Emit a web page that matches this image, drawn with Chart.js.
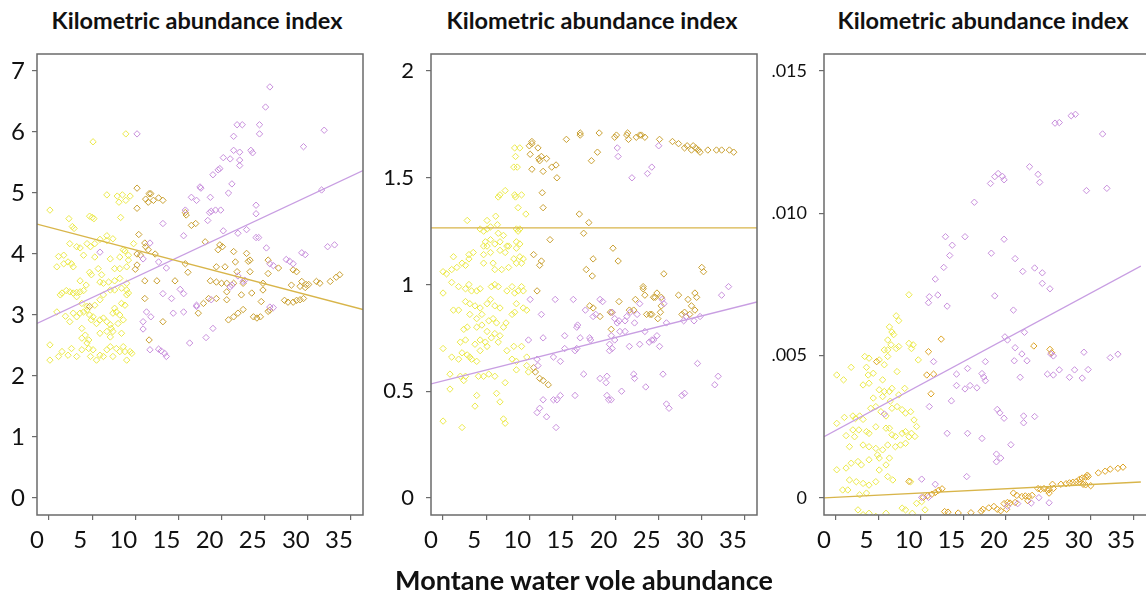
<!DOCTYPE html>
<html>
<head>
<meta charset="utf-8">
<script src="https://cdn.jsdelivr.net/npm/chart.js@4.4.1/dist/chart.umd.min.js"></script>
<style>
  body { margin: 0; background: #fff; }
  #wrap { position: relative; width: 1146px; height: 605px; overflow: hidden; background: #fff; }
  canvas { position: absolute; top: 0; }
  .ttl { position: absolute; top: 6px; width: 380px; text-align: center; font: bold 23.5px Lato, "Open Sans", sans-serif; color: #111; }
  #xlab { position: absolute; left: 334px; top: 563px; width: 500px; text-align: center; font: bold 27px Lato, "Open Sans", sans-serif; color: #111; }
</style>
</head>
<body>
<div id="wrap">
  <div class="ttl" style="left:7px">Kilometric abundance index</div>
  <div class="ttl" style="left:402px">Kilometric abundance index</div>
  <div class="ttl" style="left:793px">Kilometric abundance index</div>
  <canvas id="c1" width="375" height="565" style="left:0px"></canvas>
  <canvas id="c2" width="385" height="565" style="left:380px"></canvas>
  <canvas id="c3" width="381" height="565" style="left:765px"></canvas>
  <div id="xlab">Montane water vole abundance</div>
</div>
<script>
// tick values
var xTickVals = [0, 5, 10, 15, 20, 25, 30, 35];
var p1TickVals = [0, 1, 2, 3, 4, 5, 6, 7];
var p2TickVals = [0, 0.5, 1, 1.5, 2];
var p3TickVals = [0, 0.005, 0.010, 0.015];
var p3TickLabels = ['0', '.005', '.010', '.015'];

// panel 1 : [vole abundance, index]
var p1Yellow = [[0.1,4.72],[5.1,5.84],[8.9,5.97],[6.7,4.97],[7.9,4.95],[8.5,4.97],[8.9,4.88],[9.4,4.95],[8.1,4.85],[4.7,4.62],[5.0,4.60],[5.2,4.58],[8.3,4.60],[2.3,4.58],[2.9,4.42],[2.7,4.45],[6.7,4.30],[7.4,4.25],[2.4,4.17],[3.2,4.12],[3.6,4.10],[4.4,4.17],[4.8,4.12],[5.3,4.17],[5.9,4.24],[6.7,4.22],[0.9,3.79],[1.7,3.84],[2.2,3.87],[2.8,3.79],[2.6,3.84],[1.1,3.96],[1.7,3.98],[4.0,3.98],[5.3,3.95],[7.1,3.92],[8.2,3.95],[8.2,3.76],[7.6,3.76],[9.0,3.79],[9.2,3.90],[9.2,3.98],[8.6,4.07],[8.8,4.05],[9.8,4.17],[5.7,3.76],[6.1,3.66],[4.7,3.70],[4.9,3.66],[3.6,3.56],[6.3,3.52],[7.6,3.56],[8.2,3.60],[9.0,3.52],[5.9,3.54],[6.9,3.54],
  [1.3,3.33],[1.5,3.36],[2.0,3.40],[2.4,3.38],[2.8,3.36],[3.2,3.37],[3.6,3.38],[4.0,3.40],[4.3,3.49],[7.1,3.41],[7.6,3.41],[8.4,3.44],[9.0,3.41],
  [0.9,3.05],[1.9,2.98],[2.4,2.89],[2.8,3.03],[3.2,3.30],[3.8,3.19],[4.4,3.14],[5.3,3.16],[5.9,3.25],[6.3,3.33],
  [3.2,2.97],[3.6,3.03],[4.0,3.05],[4.4,3.08],[4.7,3.00],[4.9,2.92],[5.1,2.97],[5.5,2.86],[5.9,2.92],[6.3,2.95],[6.7,2.89],[7.1,2.84],[7.2,2.78],[7.4,3.03],[7.6,3.11],[7.8,3.05],[8.2,3.00],[8.4,3.19],[8.8,3.16],[9.0,3.33],[9.2,3.36],[8.6,2.92],[7.4,2.73],[8.0,2.86],
  [0.1,2.51],[0.1,2.26],[1.1,2.32],[1.5,2.40],[2.2,2.34],[2.6,2.45],[3.2,2.32],[3.8,2.43],[4.4,2.54],[4.6,2.45],[4.8,2.32],[5.1,2.43],[5.5,2.26],[5.9,2.34],[6.3,2.32],[6.7,2.43],[7.1,2.48],[7.4,2.32],[7.8,2.45],[8.2,2.40],[8.6,2.48],[8.8,2.40],[9.0,2.26],[9.4,2.40],[9.6,2.37],
  [3.8,2.78],[5.9,2.70],[8.4,2.70],[3.8,2.62],[4.2,2.67],[4.6,2.59],[6.7,2.73],[7.1,2.64]];
var p1Gold = [[4.7,3.14],[10.2,5.08],[11.6,4.99],[11.8,4.99],[11.2,4.90],[11.5,4.85],[12.1,4.88],[12.7,4.92],[13.2,4.88],[10.2,4.75],[10.4,4.32],[15.9,4.64],[15.8,4.68],[16.5,4.47],[17.0,4.50],[18.1,4.20],[11.1,4.18],[11.2,4.12],[11.5,4.07],[12.3,4.00],[10.2,4.00],[10.6,3.98],[19.8,4.15],[20.1,4.12],[19.6,4.07],[21.4,4.04],[21.6,3.87],[22.9,4.01],[23.1,3.88],[23.3,3.90],[25.4,3.90],[25.4,3.68],[19.4,3.79],[20.4,3.79],[21.8,3.71],[23.3,3.71],[18.7,3.56],[19.4,3.54],[20.6,3.52],[22.5,3.52],[24.8,3.52],[26.6,3.77],[28.3,3.74],[28.7,3.71],[29.3,3.55],[29.8,3.50],[31.4,3.52],[33.3,3.62],[33.7,3.66],[15.8,3.84],[16.1,3.70],[12.5,3.56],[11.1,3.56],[14.6,3.56],[10.0,3.75],[10.2,3.82],
  [11.1,3.27],[11.6,2.59],[13.2,2.89],[17.3,3.03],[17.9,3.19],[18.5,3.27],[19.4,3.27],[20.0,3.52],[20.6,3.25],[20.6,3.38],[21.4,3.52],[20.8,2.92],[21.4,2.97],[21.9,3.03],[22.5,3.09],[22.3,3.33],[23.5,3.36],[23.7,2.97],[24.1,2.95],[24.5,2.97],[24.6,3.22],[24.8,3.41],[25.4,3.06],[25.6,3.08],[27.3,3.24],[27.7,3.21],[28.3,3.21],[28.7,3.24],[29.1,3.25],[29.5,3.27],[28.1,3.49],[29.1,3.47],[29.7,3.45],[30.1,3.50],[31.0,3.55],[32.6,3.55]];
var p1Purple = [[10.2,5.97],[25.6,6.74],[25.1,6.41],[21.8,6.12],[22.4,6.12],[24.4,6.12],[24.4,5.97],[21.4,5.93],[31.9,6.03],[29.5,5.76],[31.6,5.05],[32.3,4.12],[33.1,4.15],[29.3,4.02],[29.7,3.99],[19.0,5.30],[19.6,5.38],[20.2,5.58],[21.0,5.56],[21.4,5.70],[22.1,5.67],[22.1,5.54],[22.1,5.45],[23.4,5.70],[23.6,5.66],[19.8,5.40],[17.5,5.10],[17.6,5.08],[20.8,5.00],[21.2,5.15],[16.5,4.93],[17.1,4.88],[18.7,4.93],[15.8,4.72],[18.8,4.70],[19.3,4.72],[19.9,4.72],[18.6,4.68],[18.4,4.55],[22.9,4.40],[21.9,4.34],[20.2,4.38],[24.0,4.80],[24.0,4.66],[24.0,4.27],[24.3,4.27],[13.2,4.50],[15.6,4.30],[5.9,4.03],[10.9,3.92],[11.7,4.18],[12.7,3.87],[13.6,3.77],[25.2,4.10],[25.6,3.84],[26.0,3.81],[27.5,3.91],[27.9,3.88],[28.3,3.84],[21.9,3.64],[22.5,3.55],
  [10.9,2.89],[11.3,3.05],[11.8,2.97],[10.9,2.77],[11.7,2.43],[12.7,2.44],[13.0,2.41],[13.4,2.37],[13.6,2.32],[13.2,3.35],[14.2,3.27],[14.4,3.03],[15.2,3.42],[15.6,3.35],[15.6,3.05],[16.3,2.54],[17.1,3.16],[17.1,3.14],[18.8,3.25],[19.0,2.78],[18.2,2.63],[21.0,3.46],[21.2,3.49],[22.7,3.57],[25.6,3.13],[26.0,3.12]];
var p1GoldLine = [[-1.4,4.49],[36.4,3.09]];
var p1PurpleLine = [[-1.4,2.86],[36.4,5.37]];

// panel 2
var p2Yellow = [[8.3,1.64],[8.4,1.60],[8.9,1.64],[8.2,1.55],[8.6,1.55],[7.2,1.44],[6.6,1.42],[6.4,1.41],[8.3,1.42],[8.4,1.41],[9.1,1.42],[8.7,1.36],[9.6,1.33],[6.1,1.32],[2.8,1.30],[5.1,1.30],[4.3,1.26],[5.1,1.26],[6.3,1.28],[4.7,1.25],[5.5,1.27],[6.4,1.24],[7.0,1.23],[4.9,1.20],[5.5,1.21],[6.0,1.19],[6.6,1.20],[8.5,1.26],[8.7,1.25],[8.9,1.26],[8.5,1.20],[8.9,1.19],[7.4,1.18],[7.6,1.18],[8.5,1.17],[4.7,1.18],[5.1,1.18],[6.6,1.16],[7.2,1.15],[5.5,1.15],[4.7,1.14],[3.5,1.15],[3.0,1.12],[2.6,1.09],[2.2,1.10],[1.6,1.08],[1.0,1.07],[0.4,1.05],[1.2,1.13],[3.0,1.14],[0.0,1.06],[4.7,1.10],[5.8,1.10],[6.0,1.07],[6.8,1.07],[7.6,1.08],[8.2,1.12],[8.5,1.10],[8.9,1.13],[9.1,1.10],[9.3,1.12],
  [0.0,0.96],[1.0,1.01],[1.8,0.99],[2.6,0.98],[3.0,1.00],[3.3,0.97],[3.9,0.97],[4.3,0.98],[5.6,0.99],[6.0,1.00],[6.4,0.99],[7.4,0.97],[8.0,0.99],[8.3,0.96],[8.7,0.97],[9.1,0.99],[9.3,0.97],
  [2.6,0.92],[3.1,0.91],[3.7,0.90],[4.3,0.89],[5.1,0.91],[5.5,0.93],[6.0,0.90],[6.6,0.89],[8.5,0.91],[9.3,0.89],[9.7,0.88],
  [1.2,0.88],[1.8,0.88],[3.1,0.86],[3.9,0.84],[4.5,0.86],[5.3,0.83],[5.8,0.84],[6.2,0.82],[7.0,0.80],[7.3,0.82],[8.0,0.86],[8.3,0.87],
  [2.4,0.79],[2.8,0.80],[3.9,0.80],[4.5,0.81],[5.1,0.78],[6.0,0.77],[6.6,0.76],[2.0,0.73],[2.6,0.74],[3.7,0.72],[4.3,0.74],[4.9,0.73],[5.6,0.75],[6.4,0.73],
  [0.0,0.70],[1.0,0.66],[1.8,0.65],[2.2,0.68],[2.8,0.67],[3.1,0.66],[3.3,0.65],[3.9,0.64],[4.3,0.69],[5.1,0.71],[7.4,0.69],[8.2,0.71],[9.1,0.71],[8.0,0.65],[8.5,0.64],[9.7,0.66],
  [0.8,0.58],[2.0,0.57],[2.4,0.55],[2.6,0.57],[4.1,0.57],[4.7,0.57],[5.3,0.58],[6.0,0.57],[8.5,0.60],[9.7,0.62],[9.9,0.59],
  [0.8,0.51],[3.9,0.48],[6.2,0.49],[6.6,0.45],[7.2,0.54],[0.0,0.36],[2.2,0.33],[3.7,0.43],[7.0,0.37],[7.2,0.35]];
var p2Gold = [[10.3,1.67],[10.3,1.66],[10.0,1.65],[11.0,1.64],[10.1,1.61],[11.4,1.60],[11.1,1.59],[11.2,1.58],[12.0,1.59],[10.3,1.54],[11.6,1.53],[12.6,1.55],[13.1,1.56],[13.2,1.50],[11.5,1.43],[11.6,1.36],[14.3,1.68],[15.9,1.71],[15.9,1.70],[18.1,1.71],[17.2,1.58],[17.9,1.62],[19.9,1.69],[20.1,1.70],[21.4,1.71],[21.5,1.68],[21.3,1.70],[22.4,1.69],[22.8,1.70],[23.0,1.70],[23.4,1.69],[25.1,1.68],[26.6,1.67],[27.3,1.66],[28.0,1.64],[28.3,1.65],[28.8,1.63],[29.0,1.65],[29.3,1.64],[29.6,1.63],[29.8,1.62],[30.7,1.63],[31.7,1.63],[32.3,1.63],[33.2,1.63],[33.7,1.62],
  [15.8,1.33],[16.9,1.29],[16.3,1.24],[12.4,1.21],[10.5,1.14],[11.4,1.11],[11.2,1.09],[17.4,1.12],[16.6,1.07],[17.3,1.04],[19.7,1.17],[20.3,1.11],[25.6,1.05],[30.0,1.08],[30.2,1.06],[10.9,0.97],[23.2,0.98],[24.6,0.94],[25.3,0.94],
  [17.0,0.90],[17.4,0.89],[18.2,0.85],[19.4,0.87],[19.6,0.87],[20.4,0.92],[21.6,0.88],[22.1,0.88],[22.3,0.93],[23.2,0.99],[23.4,0.95],[23.6,0.86],[24.0,0.86],[24.2,0.86],[24.8,0.96],[25.2,0.87],[24.4,0.94],[25.3,0.90],[24.9,0.84],[27.3,0.95],[27.7,0.86],[28.0,0.87],[28.4,0.93],[28.8,0.90],[29.2,0.96],[29.4,0.94],[28.6,0.86],[29.2,0.88],[19.5,0.79],[10.5,0.61],[10.7,0.59],[11.2,0.56],[11.6,0.55],[12.2,0.53]];
var p2Purple = [[20.2,1.64],[20.3,1.60],[25.0,1.65],[21.9,1.50],[23.7,1.52],[24.2,1.55],
  [10.1,0.93],[13.0,0.93],[15.1,0.93],[11.4,0.86],[9.9,0.74],[11.6,0.75],[14.1,0.76],[15.5,0.80],[15.6,0.81],[15.9,0.75],[17.0,0.75],[17.1,0.74],[14.1,0.70],[15.3,0.69],[15.5,0.70],[10.9,0.65],[11.0,0.62],[12.8,0.66],[13.6,0.64],[16.5,0.88],[18.2,0.93],[18.5,0.92],[17.4,0.85],[17.7,0.86],[19.6,0.87],[19.9,0.84],[20.2,0.82],[20.4,0.83],[21.3,0.85],[21.1,0.83],[21.7,0.87],[22.5,0.86],[22.2,0.82],[19.5,0.76],[19.9,0.74],[19.3,0.72],[19.6,0.70],[19.3,0.69],[20.5,0.78],[21.1,0.78],[21.6,0.71],[22.8,0.72],[23.4,0.78],[23.9,0.73],[24.2,0.74],[24.4,0.74],[22.8,0.91],[24.8,0.76],[25.1,0.71],[25.4,0.93],[25.6,0.91],[25.9,0.82],[27.9,0.83],[28.2,0.85],[29.1,0.83],[29.8,0.85],[32.3,0.95],[33.1,0.99],[29.5,0.63],
  [16.3,0.58],[18.2,0.56],[19.0,0.57],[18.9,0.54],[20.7,0.50],[22.1,0.58],[22.2,0.56],[23.5,0.52],[25.5,0.58],[31.5,0.53],[31.9,0.57],[15.3,0.48],[13.6,0.48],[13.2,0.46],[11.6,0.46],[12.8,0.46],[11.2,0.42],[10.9,0.40],[12.0,0.38],[13.1,0.33],[19.0,0.48],[19.2,0.46],[19.5,0.46],[25.9,0.44],[26.2,0.42],[27.7,0.48],[28.0,0.49]];
var p2GoldLine = [[-1.4,1.265],[36.4,1.265]];
var p2PurpleLine = [[-1.4,0.534],[36.4,0.918]];

// panel 3
var p3Yellow = [[8.6,0.00714],[7.1,0.00640],[7.4,0.00623],[6.3,0.00601],[6.6,0.00583],[6.8,0.00574],[6.1,0.00555],[6.5,0.00538],[7.1,0.00525],[7.4,0.00532],[5.7,0.00520],[6.1,0.00520],[8.6,0.00543],[9.1,0.00538],[8.9,0.00525],[9.7,0.00485],[3.4,0.00497],[3.9,0.00491],[3.6,0.00459],[3.8,0.00432],[4.4,0.00438],[0.1,0.00432],[0.9,0.00415],[1.8,0.00459],[5.1,0.00485],[5.7,0.00468],[5.5,0.00415],[6.1,0.00497],[7.2,0.00444],[3.2,0.00397],[3.9,0.00403],[5.1,0.00380],[5.7,0.00374],[6.3,0.00374],[6.6,0.00385],[7.4,0.00362],[8.1,0.00385],[4.4,0.00351],[5.5,0.00356],[6.4,0.00340],
  [2.0,0.00288],[2.3,0.00279],[2.8,0.00288],[3.2,0.00276],[1.0,0.00283],[0.1,0.00262],[4.1,0.00315],[4.7,0.00321],[5.3,0.00303],[5.9,0.00288],[6.6,0.00315],[7.2,0.00321],[7.8,0.00310],[8.2,0.00298],[8.8,0.00303],[9.2,0.00274],[9.5,0.00251],[2.0,0.00239],[2.7,0.00239],[3.6,0.00233],[3.9,0.00227],[4.7,0.00250],[5.9,0.00245],[6.3,0.00245],[6.6,0.00222],[7.0,0.00216],[7.8,0.00227],[8.2,0.00233],[8.9,0.00227],[9.3,0.00216],[1.2,0.00219],[2.2,0.00215],
  [1.6,0.00180],[3.2,0.00186],[3.9,0.00180],[4.7,0.00174],[5.5,0.00169],[6.1,0.00186],[7.0,0.00180],[7.6,0.00186],[8.2,0.00192],[8.6,0.00215],[0.1,0.00099],[1.2,0.00105],[1.8,0.00122],[2.6,0.00128],[3.0,0.00116],[3.9,0.00134],[4.9,0.00151],[5.1,0.00140],[5.9,0.00116],[6.3,0.00140],
  [1.6,0.00063],[2.4,0.00057],[3.2,0.00051],[3.9,0.00045],[4.7,0.00057],[5.1,0.00098],[6.1,0.00075],[6.7,0.00063],[8.8,0.00057],[3.6,0.00017],[2.8,0.00011],[0.8,0.00028],[1.4,0.00028],[2.6,-0.00042],[3.2,-0.00059],[3.9,-0.00054],[4.7,-0.00065],[5.9,-0.00054],[7.8,-0.00036],[8.2,-0.00042],[9.0,-0.00054],[9.5,-0.00019],[10.1,-0.00013],[10.5,-0.00042]];
var p3Gold = [[4.8,0.00479],[12.4,0.00558],[10.9,0.00514],[10.7,0.00432],[11.5,0.00435],[11.2,0.00366],[23.3,0.00534],[25.2,0.00522],[25.4,0.00510],
  [30.9,0.00088],[31.7,0.00094],[32.3,0.00101],[33.2,0.00104],[33.8,0.00108],[28.7,0.00066],[29.0,0.00070],[29.4,0.00073],[29.6,0.00080],[29.7,0.00075],[26.5,0.00048],[27.1,0.00050],[27.5,0.00053],[27.9,0.00055],[28.3,0.00057],[28.7,0.00055],[29.1,0.00048],[29.4,0.00046],[30.0,0.00043],[25.5,0.00048],[25.6,0.00033],[25.1,0.00017],[23.8,0.00033],[24.1,0.00030],[24.5,0.00033],[24.9,0.00027],[25.1,0.00029],
  [20.9,0.00017],[21.3,0.00009],[21.9,0.00005],[22.3,0.00007],[22.7,0.00005],[23.1,0.00009],[22.6,-0.00010],[19.8,-0.00020],[20.2,-0.00016],[20.5,-0.00018],[21.1,-0.00016],[20.1,-0.00040],[19.4,-0.00045],[17.3,-0.00040],[18.0,-0.00035],[18.6,-0.00030],[19.0,-0.00040],[15.9,-0.00052],[17.1,-0.00047],[10.3,0.00002],[10.8,0.00008],[11.3,0.00013],[11.7,0.00019],[12.1,0.00027],[12.5,0.00032],[8.6,0.00058],[13.2,-0.00050],[14.4,-0.00053],[12.8,-0.00048]];
var p3Purple = [[25.8,0.01317],[26.3,0.01319],[27.7,0.01343],[28.2,0.01348],[31.4,0.01279],[29.5,0.01080],[31.9,0.01088],[18.2,0.01105],[18.7,0.01129],[19.1,0.01140],[19.6,0.01130],[19.8,0.01118],[22.8,0.01164],[23.8,0.01137],[24.0,0.01109],[16.3,0.01039],[12.9,0.00918],[15.2,0.00918],[13.7,0.00888],[19.8,0.00909],[13.4,0.00852],[18.3,0.00860],[12.7,0.00810],[11.7,0.00769],[21.1,0.00841],[22.0,0.00796],[23.4,0.00808],[24.3,0.00791],[24.3,0.00754],[25.2,0.00735],
  [11.0,0.00707],[10.9,0.00686],[12.0,0.00713],[13.1,0.00674],[18.7,0.00710],[20.9,0.00660],[22.2,0.00582],[19.9,0.00566],[20.2,0.00555],[21.1,0.00528],[21.9,0.00506],[22.5,0.00482],[21.0,0.00482],[25.3,0.00506],[25.6,0.00499],[29.2,0.00512],[32.3,0.00493],[33.2,0.00505],[11.5,0.00479],[14.2,0.00435],[15.5,0.00455],[17.6,0.00479],[17.2,0.00437],[17.4,0.00425],[17.6,0.00412],[14.2,0.00395],[15.2,0.00383],[15.8,0.00395],[16.6,0.00387],[21.7,0.00424],[24.9,0.00435],[25.6,0.00432],[26.3,0.00450],[27.5,0.00424],[28.1,0.00450],[29.0,0.00421],[29.7,0.00451],
  [13.6,0.00341],[11.0,0.00321],[5.7,0.00295],[19.0,0.00311],[19.3,0.00299],[19.8,0.00280],[22.1,0.00288],[22.1,0.00264],[23.4,0.00286],[13.1,0.00227],[15.5,0.00227],[17.2,0.00209],[20.6,0.00187],[18.9,0.00154],[18.9,0.00127],[19.4,0.00140],[10.1,0.00066],[11.7,0.00048],[15.4,0.00075],[10.1,0.00002],[10.9,0.00002],[20.2,-0.00029],[21.4,-0.00020],[23.0,-0.00018],[23.9,0.00001],[25.1,-0.00017]];
var p3GoldLine = [[-1.4,0.0],[35.9,0.00056]];
var p3PurpleLine = [[-1.4,0.00215],[35.9,0.00815]];

var FONT = 'Lato, "Open Sans", sans-serif';
var AXIS = '#6b6b6b';

function pts(arr) {
  return arr.map(function(p) { return { x: p[0], y: p[1] }; });
}

function dots(arr, color) {
  return {
    data: pts(arr),
    pointStyle: 'rectRot',
    pointRadius: 3.2,
    pointBorderWidth: 1,
    borderColor: color,
    pointBorderColor: color,
    pointBackgroundColor: 'rgba(0,0,0,0)',
    showLine: false
  };
}

function fit(arr, color) {
  return {
    data: pts(arr),
    showLine: true,
    borderColor: color,
    borderWidth: 1.3,
    pointRadius: 0,
    fill: false
  };
}

function framePlugin(noRight) {
  return {
    id: 'frame',
    afterDatasetsDraw: function(chart) {
      var a = chart.chartArea, c = chart.ctx;
      c.save();
      c.strokeStyle = AXIS;
      c.lineWidth = 1.5;
      c.beginPath();
      if (noRight) {
        c.moveTo(chart.width, a.top);
        c.lineTo(a.left, a.top);
        c.lineTo(a.left, a.bottom);
        c.lineTo(chart.width, a.bottom);
      } else {
        c.rect(a.left, a.top, a.right - a.left, a.bottom - a.top);
      }
      c.stroke();
      c.restore();
    }
  };
}

function makePanel(id, o) {
  var canvas = document.getElementById(id);
  var W = canvas.width, H = canvas.height;
  new Chart(canvas.getContext('2d'), {
    type: 'scatter',
    data: { datasets: o.datasets },
    options: {
      responsive: false,
      animation: false,
      layout: { padding: { top: 54, left: 0, bottom: 0, right: W - o.areaRight } },
      plugins: { legend: { display: false }, tooltip: { enabled: false } },
      scales: {
        x: {
          type: 'linear', min: -1.4, max: o.xMax,
          afterBuildTicks: function(s) { s.ticks = xTickVals.map(function(v) { return { value: v }; }); },
          grid: { drawOnChartArea: false, drawTicks: true, tickLength: 5, color: AXIS, lineWidth: 1.2 },
          border: { display: false },
          ticks: { font: { family: FONT, size: 24 }, color: '#111', padding: 6, labelOffset: -12, maxRotation: 0, autoSkip: false },
          afterFit: function(s) { s.height = H - 515; s.paddingLeft = 0; s.paddingRight = 0; }
        },
        y: {
          type: 'linear', min: o.yMin, max: o.yMax,
          afterBuildTicks: function(s) { s.ticks = o.yTicks.map(function(v) { return { value: v }; }); },
          grid: { drawOnChartArea: false, drawTicks: true, tickLength: 5, color: AXIS, lineWidth: 1.2 },
          border: { display: false },
          ticks: {
            font: { family: FONT, size: o.yFont }, color: '#111', padding: o.yPad, autoSkip: false,
            callback: o.yLabel || function(v) { return String(v); }
          },
          afterFit: function(s) { s.width = o.areaLeft; s.paddingTop = 0; s.paddingBottom = 0; }
        }
      }
    },
    plugins: [framePlugin(o.noRight)]
  });
}

var YEL = '#ebe94a', GLD = '#c9a032', PUR = '#c88fdc', ORG = '#dca324';
var LGLD = '#d8b54a', LPUR = '#c89ee2';

makePanel('c1', {
  areaLeft: 37, areaRight: 363, xMax: 36.4, yMin: -0.28, yMax: 7.28,
  yTicks: p1TickVals, yFont: 24, yPad: 7,
  datasets: [fit(p1GoldLine, LGLD), fit(p1PurpleLine, LPUR), dots(p1Purple, PUR), dots(p1Gold, GLD), dots(p1Yellow, YEL)]
});

makePanel('c2', {
  areaLeft: 51, areaRight: 377, xMax: 36.4, yMin: -0.08, yMax: 2.08,
  yTicks: p2TickVals, yFont: 22, yPad: 12,
  datasets: [fit(p2GoldLine, LGLD), fit(p2PurpleLine, LPUR), dots(p2Purple, PUR), dots(p2Gold, GLD), dots(p2Yellow, YEL)]
});

makePanel('c3', {
  areaLeft: 59, areaRight: 381, xMax: 35.92, yMin: -0.0006, yMax: 0.0156, noRight: true,
  yTicks: p3TickVals, yFont: 18, yPad: 12,
  yLabel: function(v) { var i = p3TickVals.indexOf(v); return i >= 0 ? p3TickLabels[i] : ''; },
  datasets: [fit(p3GoldLine, LGLD), fit(p3PurpleLine, LPUR), dots(p3Purple, PUR), dots(p3Gold, ORG), dots(p3Yellow, YEL)]
});
</script>
</body>
</html>
